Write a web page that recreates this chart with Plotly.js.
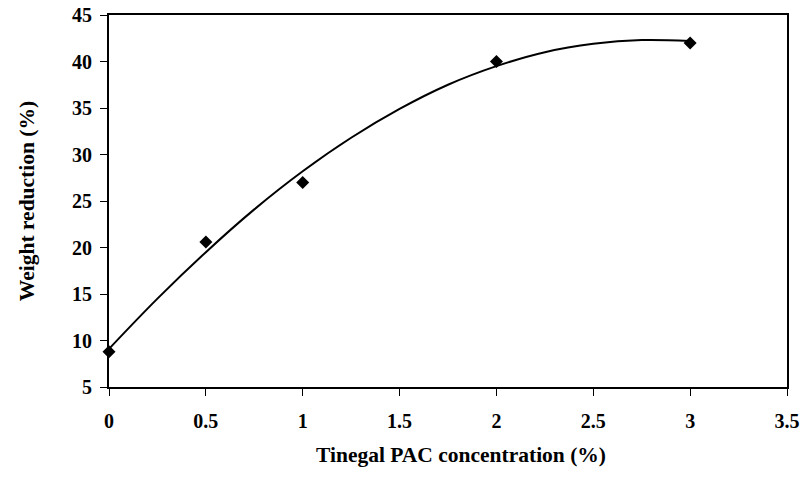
<!DOCTYPE html>
<html>
<head>
<meta charset="utf-8">
<script src="https://cdn.plot.ly/plotly-3.0.1.min.js"></script>
<style>html,body{margin:0;padding:0;background:#fff;}#chart{width:803px;height:496px;}</style>
</head>
<body>
<div id="chart"></div>
<script>
// Measured data points
const concentration = [0, 0.5, 1, 2, 3];
const weightReduction = [8.8, 20.6, 27, 40, 42];

// Trend curve
const curveX = [0, 0.25, 0.5, 0.75, 1, 1.25, 1.5, 1.75, 2, 2.25, 2.5, 2.75, 3];
const curveY = [9.1, 14.5, 19.5, 24.1, 28.2, 31.8, 34.9, 37.5, 39.5, 41.0, 41.9, 42.3, 42.2];

// Tick labels
const xTicks = [0, 0.5, 1, 1.5, 2, 2.5, 3, 3.5];
const yTicks = [5, 10, 15, 20, 25, 30, 35, 40, 45];

const xTitle = 'Tinegal PAC concentration (%)';
const yTitle = 'Weight reduction (%)';

const fontFam = '"Liberation Serif", "Times New Roman", serif';

const traces = [
  {
    x: curveX, y: curveY, type: 'scatter', mode: 'lines',
    line: {color: '#000', width: 2, shape: 'spline', smoothing: 1},
    hoverinfo: 'skip', showlegend: false
  },
  {
    x: concentration, y: weightReduction, type: 'scatter', mode: 'markers',
    marker: {symbol: 'diamond', size: 10, color: '#000'},
    cliponaxis: false, showlegend: false
  }
];

const layout = {
  width: 803, height: 496,
  margin: {l: 109, r: 16, t: 15, b: 109},
  paper_bgcolor: '#fff', plot_bgcolor: '#fff',
  font: {family: fontFam, color: '#000', size: 20, weight: 'bold'},
  showlegend: false,
  xaxis: {
    range: [0, 3.5], tickvals: xTicks, ticktext: xTicks.map(String),
    showgrid: false, zeroline: false,
    showline: true, linecolor: '#000', linewidth: 2, mirror: true,
    ticks: 'outside', ticklen: 7, tickwidth: 1, tickcolor: '#000',
    ticklabelstandoff: 8,
    tickfont: {family: fontFam, size: 20, color: '#000', weight: 'bold'}
  },
  yaxis: {
    range: [5, 45], tickvals: yTicks, ticktext: yTicks.map(String),
    showgrid: false, zeroline: false,
    showline: true, linecolor: '#000', linewidth: 2, mirror: true,
    ticks: 'outside', ticklen: 7, tickwidth: 1, tickcolor: '#000',
    ticklabelstandoff: 4,
    tickfont: {family: fontFam, size: 20, color: '#000', weight: 'bold'},
    title: {text: yTitle, standoff: 31,
            font: {family: fontFam, size: 21.5, color: '#000', weight: 'bold'}}
  },
  annotations: [{
    text: xTitle, xref: 'paper', yref: 'paper',
    x: 0.519, y: -0.183, xanchor: 'center', yanchor: 'middle',
    showarrow: false,
    font: {family: fontFam, size: 21.5, color: '#000', weight: 'bold'}
  }]
};

Plotly.newPlot('chart', traces, layout, {displayModeBar: false, staticPlot: true});
</script>
</body>
</html>
